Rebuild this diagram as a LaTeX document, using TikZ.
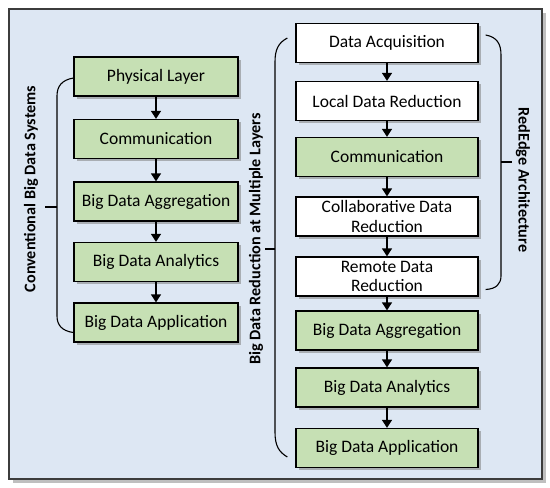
\documentclass[tikz,border=0pt]{standalone}
\usepackage{fontspec}
\setmainfont{Carlito}
\usetikzlibrary{arrows.meta,shadows}

\definecolor{bgblue}{RGB}{221,231,243}
\definecolor{layergreen}{RGB}{198,224,180}
\definecolor{framegray}{RGB}{60,60,60}

\tikzset{
  layer/.style={draw=black, line width=1.3pt, fill=layergreen, align=center,
    minimum height=39pt, inner sep=1pt,
    font=\fontsize{17.5}{19.5}\selectfont,
    drop shadow={shadow xshift=2.5pt, shadow yshift=-2.5pt, opacity=0.55}},
  leftlayer/.style={layer, minimum width=164pt},
  rightlayer/.style={layer, minimum width=182pt},
  edgelayer/.style={rightlayer, fill=white},
  brace/.style={line width=1.1pt},
  sidelabel/.style={font=\bfseries\fontsize{16.2}{17}\selectfont},
}

\begin{document}
\begin{tikzpicture}[x=1pt,y=-1pt,>={Triangle[width=10pt,length=8pt]}]
\useasboundingbox (0,0) rectangle (550,488);
\draw[fill=bgblue, draw=framegray, line width=2pt,
  drop shadow={shadow xshift=3.5pt, shadow yshift=-3.5pt, opacity=0.5}] (9,9) rectangle (542,479);

% conventional stack
\node[leftlayer] (phys) at (156,76.5) {Physical Layer};
\node[leftlayer] (comm) at (156,139) {Communication};
\node[leftlayer] (aggr) at (156,201.5) {Big Data Aggregation};
\node[leftlayer] (anly) at (156,262) {Big Data Analytics};
\node[leftlayer] (appl) at (156,322.5) {Big Data Application};

\draw[->, line width=1.5pt] (phys) -- (comm);
\draw[->, line width=1.5pt] (comm) -- (aggr);
\draw[->, line width=1.5pt] (aggr) -- (anly);
\draw[->, line width=1.5pt] (anly) -- (appl);

% reduction stack
\node[edgelayer] (acq) at (387,43) {Data Acquisition};
\node[edgelayer] (local) at (387,101) {Local Data Reduction};
\node[rightlayer] (rcomm) at (387,157) {Communication};
\node[edgelayer] (collab) at (387,216.5) {Collaborative Data\\Reduction};
\node[edgelayer] (remote) at (387,276.5) {Remote Data\\Reduction};
\node[rightlayer] (raggr) at (387,330.5) {Big Data Aggregation};
\node[rightlayer] (ranly) at (387,387.5) {Big Data Analytics};
\node[rightlayer] (rappl) at (387,448) {Big Data Application};

\draw[->, line width=1.5pt] (acq) -- (local);
\draw[->, line width=1.5pt] (local) -- (rcomm);
\draw[->, line width=1.5pt] (rcomm) -- (collab);
\draw[->, line width=1.5pt] (collab) -- (remote);
\draw[->, line width=1.5pt] (remote) -- (raggr);
\draw[->, line width=1.5pt] (raggr) -- (ranly);
\draw[->, line width=1.5pt] (ranly) -- (rappl);

% braces
\draw[brace] ([yshift=-1.5pt]phys.west) .. controls (62,80) and (57,86) .. (57,96)
  -- (57,316) .. controls (57,325) and (62,331) .. ([yshift=-10pt]appl.west);
\coordinate (convtick) at (45,207);
\draw[brace] (57,207) -- (convtick);

\draw[brace] ([xshift=-8pt,yshift=5pt]acq.west) .. controls (278,43) and (275,50) .. (275,62)
  -- (275,432) .. controls (275,446) and (279,452) .. ([xshift=-8pt,yshift=-9pt]rappl.west);
\coordinate (redtick) at (265,249);
\draw[brace] (275,249) -- (redtick);

\draw[brace] ([xshift=7pt,yshift=8pt]acq.east) .. controls (497,37) and (501,44) .. (501,55)
  -- (501,276) .. controls (501,284) and (496,289) .. ([xshift=7pt,yshift=-13pt]remote.east);
\coordinate (edgetick) at (512,162);
\draw[brace] (501,162) -- (edgetick);

% side labels
\node[sidelabel, rotate=90] (convlabel) at (31,189) {Conventional Big Data Systems};
\node[sidelabel, rotate=90] (redlabel) at (256,239) {Big Data Reduction at Multiple Layers};
\node[sidelabel, rotate=-90] (edgelabel) at (523,180) {RedEdge Architecture};
\end{tikzpicture}
\end{document}
